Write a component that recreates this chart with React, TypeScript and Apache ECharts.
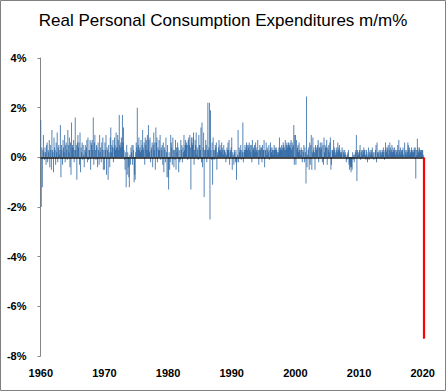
import React, { useEffect, useRef } from "react";
import * as echarts from "echarts";

// Real PCE m/m % (monthly), one row per year
const pce1960s = [
  1.5, -2.0, 0.4, -1.2, 0.3, 0.9, 0.2, -0.1, 0.4, 0.2, -0.3, 0.5,
  0.6, -0.2, 0.3, 0.2, 0.7, -0.4, 0.5, 0.3, -0.5, 1.1, 0.3, 0.2,
  -0.6, 0.8, 0.4, 0.3, -0.3, 0.6, 0.2, 1.0, -0.2, 0.4, 0.5, 0.1,
  0.3, 1.3, -0.8, 0.5, 0.3, -0.3, 0.7, 0.4, 0.2, 0.9, -0.2, 0.5,
  0.6, 0.3, -0.1, 1.1, 0.5, 0.2, 0.8, -0.4, 0.6, -0.7, 1.4, 0.4,
  0.5, 0.4, 0.7, -0.2, 0.3, 1.6, 0.3, 0.5, -0.9, 0.6, 0.9, 0.4,
  0.6, -0.3, 1.0, -0.6, 0.4, 0.2, 0.6, -0.1, 0.5, 0.1, -0.4, 0.3,
  0.5, 0.2, 0.4, 0.7, -0.2, 0.8, -0.1, 0.3, 0.3, 0.7, -0.5, 0.6,
  0.5, 0.7, 0.3, 1.6, -0.3, 0.6, 0.9, 0.3, -0.1, 0.5, 0.4, -0.4,
  0.6, 0.3, -0.3, 0.9, 0.2, 0.4, -0.2, 0.6, 0.3, 0.8, -0.5, 0.3,
];
const pce1970s = [
  -0.5, 0.6, 0.3, 0.9, -0.7, 0.4, 0.3, -0.9, 0.5, 0.2, -0.4, 0.8,
  1.2, 0.2, 0.5, 0.4, 0.7, -0.2, 0.4, 0.8, 0.5, 0.3, 1.0, 0.4,
  0.4, 0.9, 0.7, 0.3, 1.7, 0.5, 0.4, 0.6, 0.8, 0.4, 1.7, 0.6,
  1.2, 0.3, -0.1, -0.5, 0.2, -1.2, 0.5, -0.7, 0.2, -0.4, -0.8, -1.2,
  0.1, -0.3, 0.4, 0.2, 0.5, -0.3, 0.5, 0.3, -1.0, -0.7, -0.9, 0.2,
  0.6, 0.4, 2.0, 0.3, 0.5, 0.8, 0.3, 0.4, 0.2, 0.7, 0.3, 0.5,
  1.1, 0.4, 0.3, 0.6, -0.3, 0.8, 0.5, 0.7, 0.3, 0.9, 0.3, 1.3,
  0.7, 0.2, 0.8, -0.2, 0.3, 0.4, 0.6, -0.4, 0.5, 1.0, 0.3, 0.6,
  -0.5, 1.2, 0.6, 0.8, -0.2, 0.4, 0.3, 0.7, 0.3, 0.9, -0.1, 0.4,
  0.3, 0.5, -0.3, 0.6, -0.6, 0.4, 0.3, -0.2, 0.8, 0.2, -0.8, 0.5,
];
const pce1980s = [
  -0.8, -1.3, 0.2, -0.5, -0.2, 0.9, 0.6, 0.4, -0.3, 0.8, 0.3, -0.4,
  0.3, -0.1, 0.7, -0.5, 0.4, 0.2, 0.6, 0.4, -0.6, 0.3, -0.2, -0.1,
  0.7, 0.3, 0.5, -0.2, 0.4, 0.2, 0.9, 0.3, 0.5, 0.7, 0.5, 0.6,
  0.5, -0.1, 0.7, 0.8, 0.5, 0.9, 0.4, -1.3, 0.8, 0.6, 0.5, 0.8,
  1.0, -0.3, 0.3, 0.7, 0.5, 1.0, 0.1, 0.4, 0.3, -0.1, 0.9, 0.5,
  0.5, 0.3, 1.2, -0.2, 1.4, -0.4, 0.4, 1.0, -1.6, 0.3, 0.3, 0.7,
  0.5, -0.2, 0.3, 2.2, 0.3, 0.4, 2.2, -2.5, 1.9, 0.3, -0.1, 0.6,
  -1.1, 0.8, 0.3, -0.1, 0.3, 0.5, 0.4, 0.6, -0.5, 0.2, 0.1, 0.4,
  0.7, 0.3, 0.5, 0.3, 0.2, 0.6, 0.4, 0.3, 0.1, 0.5, 0.3, 0.3,
  0.2, -0.2, 0.1, 0.4, 0.3, 0.6, 0.3, 0.7, -0.3, 0.2, 0.3, 0.4,
];
const pce1990s = [
  0.8, -0.5, 0.2, 0.1, -0.3, 0.3, 0.2, -0.2, 0.3, -0.9, -0.2, 0.1,
  1.1, -0.2, 0.4, 0.2, 0.3, 0.5, -0.1, 0.3, 0.2, 1.4, -0.2, 0.2,
  0.3, 0.5, 0.3, 0.4, 0.6, 0.5, 0.3, 0.5, 0.4, 0.6, 0.3, 0.5,
  0.2, 0.5, -0.2, 0.7, 0.3, 0.4, 0.3, 0.5, 0.2, 0.6, 0.4, 0.3,
  0.2, 0.7, 0.3, -0.3, 0.3, 0.5, 0.3, 0.4, 0.4, -0.2, 0.5, 0.3,
  0.3, 0.7, -0.4, 0.3, 0.3, 0.6, 0.1, 0.4, 0.3, 0.2, 0.5, -0.1,
  0.3, 0.6, 0.4, 0.2, 0.4, 0.3, 0.1, 0.3, 0.5, 0.3, 0.4, 0.3,
  0.4, 0.3, 0.2, 0.1, 0.2, 0.4, 0.8, 0.3, 0.4, 0.3, 0.5, 0.3,
  0.4, 0.6, 0.5, 0.4, 0.3, 0.7, 0.3, 0.5, 0.6, 0.4, 0.5, 0.6,
  0.4, 0.5, 0.6, 0.4, 0.7, 0.3, 0.6, 0.4, 0.5, 1.3, -0.3, 0.9,
];
const pce2000s = [
  0.9, -0.3, 0.7, 0.3, 0.4, 0.5, 0.2, 0.6, 0.3, 0.3, 0.1, 0.4,
  0.3, -0.2, 0.3, 0.2, 0.5, -0.2, 0.4, 0.2, -1.05, 2.45, -0.4, 0.1,
  0.3, 0.4, -0.5, 0.6, -0.3, 0.5, 0.9, -0.5, 0.2, 0.8, 0.3, 0.4,
  0.2, -0.5, 0.5, 0.4, 0.3, 0.4, 0.5, 0.7, -0.2, 0.4, 0.4, 0.6,
  0.3, 0.4, 0.6, -0.2, 0.5, -0.3, 0.8, 0.2, 0.5, 0.4, 0.4, 0.7,
  -0.3, 0.4, 0.3, 0.5, 0.2, 0.6, 0.8, -0.5, -0.3, 0.3, 0.3, 0.2,
  0.7, 0.3, 0.4, 0.2, 0.1, 0.3, 0.4, 0.2, 0.6, 0.3, 0.4, 0.5,
  0.3, 0.2, 0.1, 0.2, 0.4, 0.0, 0.3, 0.2, 0.1, 0.3, 0.2, 0.1,
  -0.2, -0.1, 0.1, 0.2, 0.3, -0.3, -0.5, -0.2, -0.4, -0.6, -0.4, -0.5,
  0.2, -0.1, 0.1, -0.2, 0.1, 0.2, 0.3, 0.9, -0.95, 0.3, 0.2, 0.1,
];
const pce2010s = [
  0.2, 0.3, 0.5, -0.1, 0.2, 0.3, 0.1, 0.3, 0.2, 0.4, 0.3, 0.3,
  0.1, -0.1, 0.3, 0.2, -0.2, 0.1, 0.4, -0.1, 0.2, 0.3, 0.1, 0.2,
  0.3, 0.4, 0.1, 0.2, -0.1, 0.0, 0.2, 0.3, 0.5, -0.2, 0.6, 0.2,
  0.1, 0.2, 0.3, 0.0, 0.2, 0.3, 0.1, 0.2, 0.3, 0.2, 0.4, 0.2,
  -0.1, 0.3, 0.6, 0.4, 0.2, 0.3, 0.4, 0.5, 0.1, 0.3, 0.6, 0.4,
  0.2, 0.3, 0.5, 0.2, 0.4, 0.3, 0.2, 0.4, 0.3, 0.1, 0.3, 0.2,
  0.3, 0.5, 0.1, 0.7, 0.3, 0.2, 0.4, 0.1, 0.3, 0.2, 0.3, 0.4,
  0.1, 0.0, 0.6, 0.3, 0.2, 0.1, 0.3, 0.2, 0.6, 0.5, 0.3, 0.4,
  0.1, 0.2, 0.3, 0.4, 0.3, 0.2, 0.3, 0.2, 0.4, 0.3, 0.4, -0.85,
  0.3, 0.1, 0.75, 0.4, 0.2, 0.3, 0.4, 0.2, 0.3, 0.2, 0.3, 0.3,
];
const pce2020 = [0.3, 0.1, -7.3];

const yearLabels = ["1960", "1970", "1980", "1990", "2000", "2010", "2020"];
const startYear = 1960;

const TITLE = "Real Personal Consumption Expenditures m/m%";

export default function App() {
  const ref = useRef<HTMLDivElement>(null);

  useEffect(() => {
    if (!ref.current) return;
    const values = [
      ...pce1960s,
      ...pce1970s,
      ...pce1980s,
      ...pce1990s,
      ...pce2000s,
      ...pce2010s,
      ...pce2020,
    ];
    const categories = values.map((_, i) => {
      const y = startYear + Math.floor(i / 12);
      const m = (i % 12) + 1;
      return `${y}-${m < 10 ? "0" + m : m}`;
    });
    const last = values.length - 1;
    const data = values.map((v, i) =>
      i === last ? { value: v, itemStyle: { color: "#ff0000", opacity: 1 } } : v
    );

    const chart = echarts.init(ref.current, undefined, { renderer: "svg" });
    chart.setOption({
      animation: false,
      backgroundColor: "#ffffff",
      title: {
        text: TITLE,
        left: "center",
        top: 7,
        textStyle: {
          fontFamily: "Liberation Sans, Arial, sans-serif",
          fontSize: 17,
          fontWeight: "normal",
          color: "#000000",
        },
      },
      graphic: [
        {
          type: "rect",
          shape: { x: 0.5, y: 0.5, width: 445, height: 390 },
          style: { fill: "none", stroke: "#808080", lineWidth: 1 },
          silent: true,
          z: 100,
        },
      ],
      grid: { left: 40.5, right: 22, top: 58, bottom: 35, containLabel: false },
      xAxis: {
        type: "category",
        data: categories,
        axisLine: { show: false, onZero: false },
        axisTick: { show: false },
        splitLine: { show: false },
        axisLabel: {
          interval: 0,
          margin: 11,
          fontFamily: "Liberation Sans, Arial, sans-serif",
          fontSize: 11,
          fontWeight: "bold",
          color: "#000000",
          formatter: (val: string) => {
            const [y, m] = val.split("-");
            if (m === "01" && yearLabels.indexOf(y) >= 0) return y;
            return "";
          },
        },
      },
      yAxis: {
        type: "value",
        min: -8,
        max: 4,
        interval: 2,
        axisLine: { show: true, lineStyle: { color: "#868686", width: 1 } },
        axisTick: { show: true, length: 3, lineStyle: { color: "#868686" } },
        splitLine: { show: false },
        axisLabel: {
          margin: 14,
          fontFamily: "Liberation Sans, Arial, sans-serif",
          fontSize: 11,
          fontWeight: "bold",
          color: "#000000",
          formatter: (v: number) => `${v}%`,
        },
      },
      series: [
        {
          type: "bar",
          data,
          barCategoryGap: "40%",
          itemStyle: { color: "#1f5c9e", opacity: 0.75 },
          markLine: {
            silent: true,
            symbol: "none",
            label: { show: false },
            lineStyle: { color: "#1a1a1a", width: 1.5, type: "solid" },
            data: [
              { yAxis: 0 },
              [
                {
                  coord: [categories[last], 0],
                  lineStyle: { color: "#ff0000", width: 2.2, type: "solid" },
                },
                { coord: [categories[last], values[last]] },
              ],
            ],
          },
        },
      ],
    });
    return () => chart.dispose();
  }, []);

  return (
    <div
      ref={ref}
      style={{ position: "absolute", left: 0, top: 0, width: 446, height: 391 }}
    />
  );
}
